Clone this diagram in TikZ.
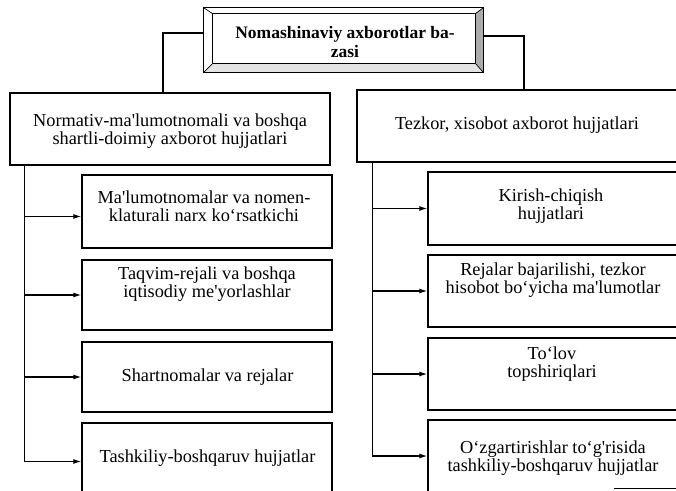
\documentclass[tikz,border=0pt]{standalone}
\usepackage{fontspec}
\setmainfont{Liberation Serif}[Ligatures=TeXOff]
\usetikzlibrary{arrows.meta,calc}
\begin{document}
\begin{tikzpicture}[x=1pt,y=-1pt,
  box/.style={draw,line width=1.3pt,inner sep=0pt},
  txt/.style={align=center,font=\fontsize{18.3}{18}\selectfont,inner sep=0pt},
  conn/.style={line width=1.2pt},
  arr/.style={line width=1.2pt,-{Latex[length=8pt,width=5pt]}}]
\useasboundingbox (0,0) rectangle (676,490);
\clip (0,0) rectangle (676,490);
% top beveled box
\node[inner sep=0pt,minimum width=279pt,minimum height=64pt] (T) at (343.5,40) {};
\coordinate (iNW) at ($(T.north west)+(9,6)$);
\coordinate (iNE) at ($(T.north east)+(-8,6)$);
\coordinate (iSE) at ($(T.south east)+(-8,-9)$);
\coordinate (iSW) at ($(T.south west)+(9,-9)$);
\fill[gray!65] (T.north east) -- (T.south east) -- (iSE) -- (iNE) -- cycle;
\fill[gray!22] (T.south west) -- (T.south east) -- (iSE) -- (iSW) -- cycle;
\draw[line width=1.3pt] (T.north west) rectangle (T.south east);
\draw[line width=1.1pt] (iNW) rectangle (iSE);
\draw[line width=0.7pt] (T.north west) -- (iNW) (T.north east) -- (iNE) (T.south east) -- (iSE) (T.south west) -- (iSW);
\node[txt,font=\fontsize{17.5}{19.5}\selectfont\bfseries] (tT) at (345,42) {Nomashinaviy axborotlar ba-\\zasi};
% left column
\node[box,minimum width=320pt,minimum height=72pt] (L0) at (170,129) {};
\node[box,minimum width=250pt,minimum height=73pt] (L1) at (207,211.5) {};
\node[box,minimum width=250pt,minimum height=70pt] (L2) at (207,295) {};
\node[box,minimum width=250pt,minimum height=70pt] (L3) at (207,377) {};
\node[box,minimum width=250pt,minimum height=77pt] (L4) at (207,461.5) {};
\node[txt] (tL0) at (170,131) {Normativ-ma'lumotnomali va boshqa\\shartli-doimiy axborot hujjatlari};
\node[txt] (tL1) at (204,206) {Ma'lumotnomalar va nomen-\\klaturali narx ko‘rsatkichi};
\node[txt] (tL2) at (207,284) {Taqvim-rejali va boshqa\\iqtisodiy me'yorlashlar};
\node[txt] (tL3) at (207.5,377) {Shartnomalar va rejalar};
\node[txt] (tL4) at (207.5,458) {Tashkiliy-boshqaruv hujjatlar};
% right column
\node[box,minimum width=323pt,minimum height=72pt] (R0) at (518.5,126) {};
\node[box,minimum width=254pt,minimum height=73pt] (R1) at (555,208.5) {};
\node[box,minimum width=254pt,minimum height=72pt] (R2) at (555,291) {};
\node[box,minimum width=254pt,minimum height=72pt] (R3) at (555,374) {};
\node[box,minimum width=254pt,minimum height=80pt] (R4) at (555,460) {};
\node[txt] (tR0) at (517,125) {Tezkor, xisobot axborot hujjatlari};
\node[txt] (tR1) at (551,206) {Kirish-chiqish\\hujjatlari};
\node[txt] (tR2) at (553,280) {Rejalar bajarilishi, tezkor\\hisobot bo‘yicha ma'lumotlar};
\node[txt] (tR3) at (552,364) {To‘lov\\topshiriqlari};
\node[txt] (tR4) at (553,458) {O‘zgartirishlar to‘g'risida\\tashkiliy-boshqaruv hujjatlar};
\draw[line width=0.8pt] (R4.south west) ++(187,-12) coordinate (sl) -- ++(70,0);
% connectors from top box
\draw[conn] ([yshift=7pt]T.west) -| ([xshift=-7pt]L0.north);
\draw[conn] ([yshift=4pt]T.east) -| ([xshift=5.5pt]R0.north);
% left trunk
\coordinate (lt) at ($(L0.south west)+(15,0)$);
\draw[conn] (lt) -- (lt |- L4.west);
\draw[arr] ($(lt |- L1.west)+(0,5)$) -- ($(L1.west)+(0,5)$);
\draw[arr] (lt |- L2.west) -- (L2.west);
\draw[arr] (lt |- L3.west) -- (L3.west);
\draw[arr] (lt |- L4.west) -- (L4.west);
% right trunk
\coordinate (rt) at ($(R0.south west)+(16,0)$);
\draw[conn] (rt) -- ($(rt |- R4.west)+(0,-4)$);
\draw[arr] (rt |- R1.west) -- (R1.west);
\draw[arr] (rt |- R2.west) -- (R2.west);
\draw[arr] (rt |- R3.west) -- (R3.west);
\draw[arr] ($(rt |- R4.west)+(0,-4)$) -- ($(R4.west)+(0,-4)$);
\end{tikzpicture}
\end{document}
